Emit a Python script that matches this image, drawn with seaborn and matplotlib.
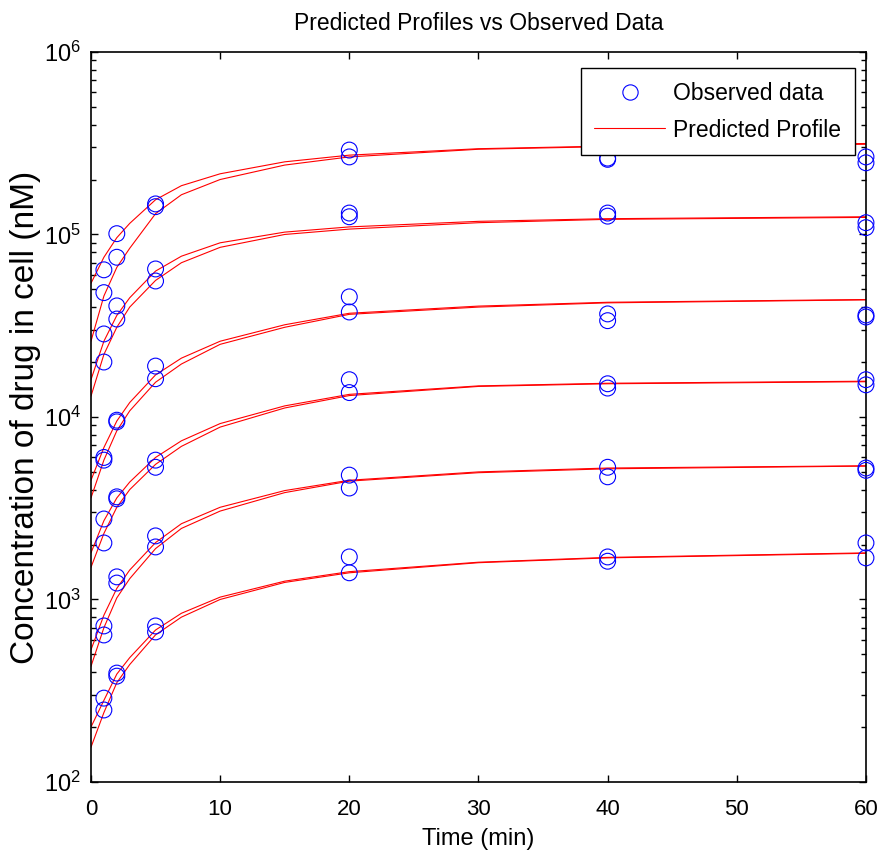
import matplotlib
matplotlib.use("Agg")
import numpy as np
import pandas as pd
import seaborn as sns
import matplotlib.pyplot as plt
from matplotlib import font_manager
from matplotlib.lines import Line2D
from matplotlib.ticker import LogLocator, NullFormatter, FixedLocator

# ---- observed data: two replicates at each sampling time, six dose levels ----
obs_time = [1, 1, 2, 2, 5, 5, 20, 20, 40, 40, 60, 60]
obs_dose1 = [6.4e4, 4.8e4, 1.01e5, 7.5e4, 1.47e5, 1.42e5, 2.9e5, 2.66e5, 2.62e5, 2.58e5, 2.66e5, 2.47e5]
obs_dose2 = [2.85e4, 2.0e4, 4.06e4, 3.44e4, 6.47e4, 5.56e4, 1.31e5, 1.25e5, 1.31e5, 1.26e5, 1.16e5, 1.09e5]
obs_dose3 = [6.0e3, 5.8e3, 9.6e3, 9.4e3, 1.9e4, 1.62e4, 4.55e4, 3.76e4, 3.67e4, 3.37e4, 3.62e4, 3.53e4]
obs_dose4 = [2.76e3, 2.04e3, 3.65e3, 3.56e3, 5.8e3, 5.3e3, 1.6e4, 1.36e4, 1.52e4, 1.44e4, 1.6e4, 1.5e4]
obs_dose5 = [716, 639, 1.33e3, 1.23e3, 2.23e3, 1.94e3, 4.8e3, 4.08e3, 5.3e3, 4.7e3, 5.25e3, 5.1e3]
obs_dose6 = [288, 248, 395, 380, 716, 664, 1.71e3, 1.4e3, 1.71e3, 1.62e3, 2.04e3, 1.69e3]

# ---- predicted profiles (two fitted curves per dose level) ----
pred_time = [0, 1, 2, 3, 5, 7, 10, 15, 20, 30, 40, 60]
pred_dose1_a = [5.4e4, 7.5e4, 9.6e4, 1.15e5, 1.55e5, 1.85e5, 2.15e5, 2.5e5, 2.72e5, 2.95e5, 3.05e5, 3.15e5]
pred_dose1_b = [2.6e4, 4.6e4, 6.6e4, 8.4e4, 1.3e5, 1.65e5, 2.0e5, 2.4e5, 2.66e5, 2.93e5, 3.03e5, 3.12e5]
pred_dose2_a = [1.6e4, 2.6e4, 3.6e4, 4.5e4, 6.3e4, 7.6e4, 9.0e4, 1.03e5, 1.1e5, 1.18e5, 1.22e5, 1.25e5]
pred_dose2_b = [1.3e4, 2.2e4, 3.1e4, 4.0e4, 5.6e4, 7.0e4, 8.5e4, 1.0e5, 1.07e5, 1.16e5, 1.21e5, 1.24e5]
pred_dose3_a = [4.5e3, 6.8e3, 9.5e3, 1.2e4, 1.7e4, 2.1e4, 2.6e4, 3.2e4, 3.7e4, 4.05e4, 4.25e4, 4.4e4]
pred_dose3_b = [3.6e3, 5.8e3, 8.4e3, 1.08e4, 1.55e4, 1.95e4, 2.5e4, 3.1e4, 3.65e4, 4.0e4, 4.22e4, 4.38e4]
pred_dose4_a = [1.8e3, 2.7e3, 3.6e3, 4.4e3, 6.0e3, 7.4e3, 9.2e3, 1.15e4, 1.33e4, 1.48e4, 1.53e4, 1.57e4]
pred_dose4_b = [1.5e3, 2.3e3, 3.2e3, 4.0e3, 5.5e3, 6.9e3, 8.8e3, 1.12e4, 1.31e4, 1.47e4, 1.52e4, 1.56e4]
pred_dose5_a = [530, 820, 1.15e3, 1.45e3, 2.05e3, 2.6e3, 3.2e3, 3.95e3, 4.5e3, 5.0e3, 5.25e3, 5.4e3]
pred_dose5_b = [430, 700, 1.02e3, 1.3e3, 1.9e3, 2.45e3, 3.05e3, 3.85e3, 4.45e3, 4.95e3, 5.2e3, 5.38e3]
pred_dose6_a = [200, 280, 390, 480, 680, 840, 1.03e3, 1.26e3, 1.42e3, 1.6e3, 1.7e3, 1.8e3]
pred_dose6_b = [155, 240, 350, 440, 640, 800, 1.0e3, 1.24e3, 1.4e3, 1.59e3, 1.69e3, 1.79e3]

x_ticks = [0, 10, 20, 30, 40, 50, 60]
y_ticks = [1e2, 1e3, 1e4, 1e5, 1e6]
y_tick_labels = [r"$10^{2}$", r"$10^{3}$", r"$10^{4}$", r"$10^{5}$", r"$10^{6}$"]

# ---- styling ----
sns.set_style("ticks")
available = {f.name for f in font_manager.fontManager.ttflist}
NARROW = "Liberation Sans Narrow" if "Liberation Sans Narrow" in available else "Liberation Sans"
plt.rcParams["font.family"] = [NARROW, "DejaVu Sans"]
plt.rcParams["mathtext.fontset"] = "custom"
plt.rcParams["mathtext.rm"] = NARROW
plt.rcParams["mathtext.it"] = NARROW
plt.rcParams["mathtext.default"] = "regular"
for key in ["text.color", "axes.labelcolor", "xtick.color", "ytick.color"]:
    plt.rcParams[key] = "black"

obs_sets = [obs_dose1, obs_dose2, obs_dose3, obs_dose4, obs_dose5, obs_dose6]
obs_df = pd.concat(
    [pd.DataFrame({"time": obs_time, "conc": vals, "dose": i}) for i, vals in enumerate(obs_sets)],
    ignore_index=True,
)
pred_sets = [pred_dose1_a, pred_dose1_b, pred_dose2_a, pred_dose2_b, pred_dose3_a, pred_dose3_b,
             pred_dose4_a, pred_dose4_b, pred_dose5_a, pred_dose5_b, pred_dose6_a, pred_dose6_b]
pred_df = pd.concat(
    [pd.DataFrame({"time": pred_time, "conc": vals, "curve": i}) for i, vals in enumerate(pred_sets)],
    ignore_index=True,
)

fig = plt.figure(figsize=(8.85, 8.63), dpi=100)
ax = fig.add_axes([0.1028, 0.0939, 0.8757, 0.8459])

sns.lineplot(data=pred_df, x="time", y="conc", units="curve", estimator=None,
             color="red", linewidth=0.8, ax=ax, legend=False)
sns.scatterplot(data=obs_df, x="time", y="conc", marker="o", s=130,
                facecolors="none", edgecolor="blue", linewidth=0.8,
                ax=ax, legend=False, clip_on=False, zorder=3)

ax.set_yscale("log")
ax.set_xlim(0, 60)
ax.set_ylim(1e2, 1e6)
ax.xaxis.set_major_locator(FixedLocator(x_ticks))
ax.set_xticklabels([str(t) for t in x_ticks])
ax.yaxis.set_major_locator(FixedLocator(y_ticks))
ax.set_yticklabels(y_tick_labels)
ax.yaxis.set_minor_locator(LogLocator(base=10, subs=np.arange(2, 10), numticks=20))
ax.yaxis.set_minor_formatter(NullFormatter())

for side in ["top", "right", "bottom", "left"]:
    ax.spines[side].set_visible(True)
    ax.spines[side].set_linewidth(1.2)
    ax.spines[side].set_color("black")
ax.tick_params(axis="both", which="both", direction="in", top=True, right=True,
               color="black", width=1.0)
ax.tick_params(axis="both", which="major", length=5)
ax.tick_params(axis="y", which="minor", length=3.5)
ax.tick_params(axis="x", which="major", labelsize=16, pad=12)
ax.tick_params(axis="y", which="major", labelsize=17, pad=7)

ax.set_title("Predicted Profiles vs Observed Data", fontsize=16.5, pad=16)
ax.set_xlabel("Time (min)", fontsize=17, labelpad=6)
ax.set_ylabel("Concentration of drug in cell (nM)", fontsize=24,
              family=["Liberation Sans", "DejaVu Sans"], labelpad=2)

handles = [
    Line2D([], [], linestyle="none", marker="o", markersize=11,
           markerfacecolor="none", markeredgecolor="blue", markeredgewidth=0.8),
    Line2D([], [], color="red", linewidth=0.8),
]
leg = ax.legend(handles, ["Observed data", "Predicted Profile"], loc="upper right",
                bbox_to_anchor=(0.986, 0.978), borderaxespad=0, fontsize=16.5,
                frameon=True, fancybox=False, framealpha=1, edgecolor="black",
                handlelength=3.1, handletextpad=0.35, borderpad=0.6, labelspacing=0.6)
leg.get_frame().set_linewidth(1.0)

fig.savefig("out.png", dpi=100)
